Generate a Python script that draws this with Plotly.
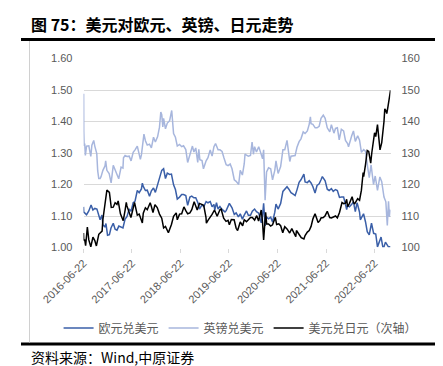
import plotly.graph_objects as go

# ---------------- data ----------------
eur_dates = ["2016-06-22","2016-06-24","2016-07-01","2016-07-15","2016-08-01","2016-08-18","2016-09-01","2016-09-15",
"2016-10-01","2016-10-15","2016-10-25","2016-11-08","2016-11-15","2016-12-01","2016-12-08","2016-12-20",
"2017-01-03","2017-01-15","2017-02-01","2017-02-15","2017-03-01","2017-03-15","2017-04-01","2017-04-15",
"2017-05-01","2017-05-15","2017-06-01","2017-06-15","2017-07-01","2017-07-15","2017-08-01","2017-08-15",
"2017-09-01","2017-09-08","2017-09-15","2017-10-01","2017-10-15","2017-11-01","2017-11-15","2017-12-01",
"2017-12-15","2018-01-01","2018-01-15","2018-02-01","2018-02-15","2018-03-01","2018-03-15","2018-04-01",
"2018-04-15","2018-05-01","2018-05-15","2018-05-29","2018-06-15","2018-07-01","2018-07-15","2018-08-01",
"2018-08-15","2018-09-01","2018-09-15","2018-10-01","2018-10-15","2018-11-01","2018-11-12","2018-12-01",
"2018-12-15","2019-01-01","2019-01-15","2019-02-01","2019-02-15","2019-03-01","2019-03-07","2019-03-20",
"2019-04-01","2019-04-15","2019-05-01","2019-05-23","2019-06-01","2019-06-25","2019-07-15","2019-08-01",
"2019-08-15","2019-09-01","2019-09-15","2019-10-01","2019-10-15","2019-11-01","2019-11-15","2019-12-01",
"2019-12-15","2020-01-01","2020-01-15","2020-02-01","2020-02-20","2020-03-01","2020-03-09","2020-03-20",
"2020-04-01","2020-04-15","2020-05-01","2020-05-15","2020-06-01","2020-06-10","2020-06-26","2020-07-15",
"2020-08-01","2020-08-15","2020-09-01","2020-09-15","2020-10-01","2020-10-15","2020-11-01","2020-11-15",
"2020-12-01","2020-12-15","2021-01-06","2021-01-15","2021-02-01","2021-02-15","2021-03-01","2021-03-15",
"2021-03-31","2021-04-15","2021-05-01","2021-05-15","2021-05-25","2021-06-15","2021-07-01","2021-07-15",
"2021-08-01","2021-08-15","2021-09-01","2021-09-15","2021-10-01","2021-10-15","2021-11-01","2021-11-15",
"2021-11-24","2021-12-01","2021-12-15","2022-01-01","2022-01-14","2022-01-28","2022-02-10","2022-02-15",
"2022-03-01","2022-03-07","2022-03-15","2022-03-31","2022-04-15","2022-04-28","2022-05-13","2022-05-30",
"2022-06-15","2022-07-01","2022-07-14","2022-08-01","2022-08-10","2022-08-23","2022-09-01","2022-09-12",
"2022-09-28","2022-10-04","2022-10-20"]
eur_usd = [1.129,1.112,1.110,1.104,1.116,1.135,1.119,1.124,
1.122,1.097,1.088,1.103,1.072,1.065,1.076,1.039,
1.041,1.062,1.077,1.058,1.055,1.068,1.065,1.062,
1.090,1.098,1.122,1.115,1.142,1.147,1.181,1.174,
1.186,1.204,1.194,1.181,1.182,1.163,1.180,1.189,
1.175,1.201,1.226,1.245,1.250,1.219,1.236,1.232,
1.233,1.199,1.184,1.154,1.160,1.168,1.168,1.165,
1.134,1.160,1.163,1.158,1.158,1.141,1.122,1.135,
1.130,1.146,1.142,1.146,1.129,1.137,1.119,1.142,
1.122,1.130,1.121,1.113,1.117,1.140,1.126,1.105,
1.110,1.097,1.107,1.090,1.103,1.116,1.102,1.102,
1.115,1.122,1.114,1.109,1.078,1.103,1.140,1.069,
1.096,1.091,1.096,1.081,1.112,1.138,1.122,1.140,
1.178,1.184,1.193,1.185,1.174,1.170,1.165,1.183,
1.207,1.215,1.233,1.208,1.206,1.212,1.205,1.193,
1.173,1.197,1.202,1.215,1.225,1.212,1.185,1.181,
1.187,1.178,1.184,1.181,1.159,1.160,1.160,1.137,
1.120,1.133,1.129,1.137,1.145,1.114,1.142,1.135,
1.112,1.088,1.095,1.107,1.081,1.050,1.040,1.077,
1.045,1.043,1.002,1.026,1.033,1.002,1.002,1.017,
1.002,1.002,1.002]

gbp_dates = ["2016-06-22","2016-06-23","2016-06-24","2016-06-27","2016-07-01","2016-07-06","2016-07-15","2016-08-01",
"2016-08-16","2016-08-24","2016-09-07","2016-09-15","2016-09-30","2016-10-07","2016-10-15","2016-10-25",
"2016-11-01","2016-11-15","2016-12-01","2016-12-06","2016-12-15","2017-01-01","2017-01-16","2017-02-01",
"2017-02-15","2017-03-01","2017-03-14","2017-04-01","2017-04-15","2017-04-19","2017-05-01","2017-05-15",
"2017-06-01","2017-06-15","2017-07-01","2017-07-15","2017-08-01","2017-08-24","2017-09-01","2017-09-20",
"2017-10-01","2017-10-15","2017-11-01","2017-11-15","2017-12-01","2017-12-15","2018-01-01","2018-01-15",
"2018-01-25","2018-02-01","2018-02-09","2018-02-15","2018-03-01","2018-03-15","2018-04-01","2018-04-17",
"2018-05-01","2018-05-15","2018-05-29","2018-06-15","2018-07-01","2018-07-15","2018-08-01","2018-08-15",
"2018-09-01","2018-09-20","2018-10-01","2018-10-15","2018-10-30","2018-11-07","2018-11-15","2018-12-01",
"2018-12-12","2019-01-01","2019-01-15","2019-02-01","2019-02-15","2019-03-01","2019-03-13","2019-04-01",
"2019-04-15","2019-05-01","2019-05-15","2019-06-01","2019-06-15","2019-07-01","2019-07-15","2019-08-01",
"2019-08-15","2019-09-03","2019-09-15","2019-10-01","2019-10-15","2019-10-21","2019-11-01","2019-11-15",
"2019-12-01","2019-12-13","2019-12-23","2020-01-01","2020-01-15","2020-02-01","2020-02-15","2020-03-01",
"2020-03-09","2020-03-20","2020-03-31","2020-04-15","2020-05-01","2020-05-15","2020-06-01","2020-06-10",
"2020-06-26","2020-07-15","2020-08-01","2020-08-15","2020-09-01","2020-09-22","2020-10-01","2020-10-15",
"2020-11-01","2020-11-15","2020-12-01","2020-12-15","2021-01-01","2021-01-15","2021-02-01","2021-02-15",
"2021-02-24","2021-03-01","2021-03-15","2021-04-01","2021-04-15","2021-05-01","2021-05-15","2021-06-01",
"2021-06-15","2021-07-01","2021-07-20","2021-08-01","2021-08-20","2021-09-01","2021-09-15","2021-09-29",
"2021-10-15","2021-11-01","2021-11-15","2021-12-01","2021-12-08","2022-01-01","2022-01-14","2022-01-28",
"2022-02-15","2022-03-01","2022-03-15","2022-04-01","2022-04-15","2022-05-01","2022-05-13","2022-05-27",
"2022-06-14","2022-06-27","2022-07-14","2022-08-01","2022-08-15","2022-09-01","2022-09-15","2022-09-26",
"2022-10-05","2022-10-12","2022-10-20"]
gbp_usd = [1.468,1.488,1.368,1.322,1.330,1.292,1.322,1.323,
1.289,1.325,1.340,1.322,1.298,1.243,1.219,1.219,
1.225,1.245,1.259,1.275,1.245,1.235,1.205,1.261,
1.247,1.229,1.218,1.255,1.252,1.285,1.292,1.289,
1.290,1.275,1.302,1.310,1.322,1.280,1.294,1.360,
1.339,1.325,1.328,1.316,1.350,1.335,1.352,1.382,
1.430,1.422,1.383,1.410,1.377,1.395,1.402,1.435,
1.362,1.350,1.322,1.327,1.320,1.323,1.311,1.270,
1.294,1.322,1.303,1.316,1.270,1.312,1.279,1.276,
1.250,1.275,1.285,1.310,1.290,1.320,1.330,1.310,
1.310,1.305,1.285,1.263,1.260,1.265,1.250,1.215,
1.210,1.200,1.245,1.230,1.266,1.297,1.293,1.290,
1.292,1.335,1.296,1.320,1.303,1.320,1.302,1.282,
1.310,1.150,1.240,1.253,1.250,1.215,1.245,1.275,
1.235,1.257,1.310,1.310,1.340,1.273,1.290,1.290,
1.292,1.318,1.336,1.345,1.367,1.362,1.370,1.391,
1.415,1.393,1.391,1.380,1.380,1.385,1.410,1.420,
1.410,1.380,1.367,1.390,1.363,1.378,1.380,1.342,
1.375,1.370,1.340,1.330,1.320,1.355,1.370,1.337,
1.355,1.341,1.302,1.311,1.305,1.255,1.222,1.262,
1.200,1.227,1.181,1.224,1.209,1.160,1.145,1.070,
1.147,1.097,1.120]

jpy_dates = ["2016-06-22","2016-06-24","2016-07-01","2016-07-08","2016-07-21","2016-08-01","2016-08-16","2016-09-01",
"2016-09-15","2016-09-27","2016-10-15","2016-10-28","2016-11-09","2016-11-15","2016-12-01","2016-12-15",
"2017-01-03","2017-01-17","2017-02-01","2017-02-15","2017-03-01","2017-03-10","2017-03-27","2017-04-17",
"2017-05-01","2017-05-10","2017-05-15","2017-06-01","2017-06-14","2017-07-11","2017-07-26","2017-08-01",
"2017-08-15","2017-09-08","2017-09-15","2017-10-01","2017-10-15","2017-11-06","2017-11-15","2017-11-27",
"2017-12-12","2017-12-29","2018-01-15","2018-02-01","2018-02-15","2018-03-01","2018-03-23","2018-04-15",
"2018-05-01","2018-05-21","2018-05-29","2018-06-15","2018-07-01","2018-07-18","2018-08-01","2018-08-15",
"2018-09-01","2018-09-15","2018-10-03","2018-10-26","2018-11-12","2018-11-28","2018-12-14","2018-12-31",
"2019-01-03","2019-01-15","2019-02-01","2019-02-15","2019-03-05","2019-03-25","2019-04-15","2019-04-24",
"2019-05-13","2019-05-31","2019-06-15","2019-06-25","2019-07-10","2019-07-31","2019-08-15","2019-08-26",
"2019-09-15","2019-10-03","2019-10-15","2019-11-01","2019-11-15","2019-12-01","2019-12-15","2020-01-01",
"2020-01-17","2020-01-31","2020-02-20","2020-03-01","2020-03-09","2020-03-24","2020-04-01","2020-04-15",
"2020-05-01","2020-05-15","2020-06-05","2020-06-15","2020-07-01","2020-07-15","2020-07-31","2020-08-15",
"2020-09-01","2020-09-21","2020-10-07","2020-10-15","2020-11-06","2020-11-11","2020-12-01","2020-12-17",
"2021-01-06","2021-01-15","2021-02-01","2021-02-15","2021-03-01","2021-03-15","2021-03-31","2021-04-23",
"2021-05-07","2021-05-15","2021-06-01","2021-06-15","2021-07-01","2021-07-19","2021-08-01","2021-08-15",
"2021-09-01","2021-09-15","2021-10-01","2021-10-20","2021-11-01","2021-11-15","2021-11-24","2021-12-01",
"2021-12-15","2022-01-04","2022-01-15","2022-01-24","2022-02-15","2022-03-01","2022-03-15","2022-03-28",
"2022-04-01","2022-04-15","2022-04-28","2022-05-09","2022-05-24","2022-06-01","2022-06-15","2022-06-22",
"2022-07-01","2022-07-14","2022-08-02","2022-08-15","2022-09-01","2022-09-07","2022-09-15","2022-09-22",
"2022-10-01","2022-10-15","2022-10-20"]
usd_jpy = [104.6,102.2,102.5,100.6,106.5,102.4,100.2,103.3,
102.2,100.5,104.2,104.8,105.2,108.9,114.0,118.2,
117.5,112.7,112.8,114.2,113.7,114.8,110.7,108.5,
111.8,114.3,113.2,111.3,109.5,114.3,111.0,110.3,
110.6,107.8,110.9,112.6,112.0,114.2,113.0,111.1,
113.6,112.7,110.6,109.3,106.2,106.7,104.7,107.3,
109.9,111.0,108.8,110.6,110.7,112.9,111.7,110.7,
111.0,112.0,114.5,111.9,114.0,113.6,113.4,109.6,
107.7,108.6,109.5,110.5,111.9,109.9,112.0,112.2,
109.3,108.3,108.6,107.2,108.9,108.8,106.1,105.4,
108.1,106.9,108.8,108.2,108.8,109.5,109.5,108.7,
110.1,108.4,111.9,107.9,102.4,111.2,107.5,107.5,
106.8,107.2,109.6,107.3,107.5,106.9,104.7,106.6,
105.9,104.6,106.0,105.4,103.4,105.4,104.3,103.1,
102.7,103.8,104.9,105.4,106.7,109.1,110.7,107.9,
108.6,109.4,109.5,110.1,111.5,109.5,109.4,109.6,
110.0,109.4,111.1,114.3,113.9,114.1,115.3,113.0,
114.0,116.1,114.2,113.9,115.5,115.0,118.2,123.8,
122.5,126.4,130.8,130.5,126.8,130.0,134.5,136.4,
135.2,139.0,131.0,133.3,140.0,144.0,143.5,142.5,
144.7,148.7,149.9]

series_names = ["欧元兑美元", "英镑兑美元", "美元兑日元（次轴）"]
x_tick_dates = ["2016-06-22","2017-06-22","2018-06-22","2019-06-22","2020-06-22","2021-06-22","2022-06-22"]
left_ticks = [1.00, 1.10, 1.20, 1.30, 1.40, 1.50, 1.60]
right_ticks = [100, 110, 120, 130, 140, 150, 160]
title_text = "图 75：美元对欧元、英镑、日元走势"
source_text = "资料来源：Wind,中原证券"

# ---------------- figure ----------------
W, H = 443, 366
def px_x(v): return v / W
def px_y(v): return 1 - v / H

CJK = "Noto Sans CJK SC"
GRAY = "#595959"

fig = go.Figure()
fig.add_trace(go.Scatter(x=eur_dates, y=eur_usd, name=series_names[0], mode="lines",
                         line=dict(color="#3A5FA8", width=1.5)))
fig.add_trace(go.Scatter(x=gbp_dates, y=gbp_usd, name=series_names[1], mode="lines",
                         line=dict(color="#A7B6DD", width=1.5)))
fig.add_trace(go.Scatter(x=jpy_dates, y=usd_jpy, name=series_names[2], mode="lines",
                         line=dict(color="#000000", width=1.5), yaxis="y2"))

plot_l, plot_r = 75.5, 382.5
plot_t, plot_b = 50.5, 239.5

fig.update_layout(
    width=W, height=H, autosize=False,
    margin=dict(l=0, r=0, t=0, b=0),
    paper_bgcolor="white", plot_bgcolor="white",
    font=dict(family="Liberation Sans, Arial", size=11, color=GRAY),
    showlegend=True,
    legend=dict(orientation="h", x=0.525, xanchor="center", y=px_y(320), yanchor="middle",
                font=dict(family=CJK, size=12, color=GRAY), bgcolor="rgba(0,0,0,0)",
                itemwidth=30, tracegroupgap=0),
    xaxis=dict(domain=[px_x(plot_l), px_x(plot_r)], type="date",
               range=["2016-06-22", "2022-10-20"],
               tickvals=x_tick_dates, ticktext=x_tick_dates, tickangle=-45,
               showgrid=False, zeroline=False, showline=False,
               ticks="outside", ticklen=4, tickcolor="#D9D9D9", tickwidth=1,
               tickfont=dict(size=11, color=GRAY), automargin=False),
    yaxis=dict(domain=[px_y(plot_b), px_y(plot_t)], range=[1.0, 1.6],
               tickvals=left_ticks, tickformat=".2f",
               showgrid=True, gridcolor="#D9D9D9", gridwidth=1,
               zeroline=False, showline=False, ticks="",
               ticklabelstandoff=10, tickfont=dict(size=11, color=GRAY), automargin=False),
    yaxis2=dict(overlaying="y", side="right", range=[100, 160],
                tickvals=right_ticks, showgrid=False, zeroline=False, showline=False,
                ticks="", ticklabelstandoff=10, tickfont=dict(size=11, color=GRAY),
                automargin=False),
)

# title, rules and source
fig.add_annotation(text="<b>" + title_text + "</b>", xref="paper", yref="paper",
                   x=px_x(21), y=px_y(16), xanchor="left", yanchor="middle", showarrow=False,
                   font=dict(family=CJK, size=16, color="#000000"))
fig.add_annotation(text=source_text, xref="paper", yref="paper",
                   x=px_x(21), y=px_y(349), xanchor="left", yanchor="middle", showarrow=False,
                   font=dict(family=CJK, size=14, color="#000000"))
fig.add_shape(type="line", xref="paper", yref="paper", x0=px_x(13), x1=px_x(430),
              y0=px_y(31.5), y1=px_y(31.5), line=dict(color="#000000", width=3))
fig.add_shape(type="line", xref="paper", yref="paper", x0=px_x(13), x1=px_x(430),
              y0=px_y(336), y1=px_y(336), line=dict(color="#000000", width=3))
fig.add_shape(type="line", xref="paper", yref="paper", x0=px_x(21.5), x1=px_x(21.5),
              y0=px_y(33), y1=px_y(334.5), line=dict(color="#D0D0D0", width=1))

fig.write_html("out.html")
